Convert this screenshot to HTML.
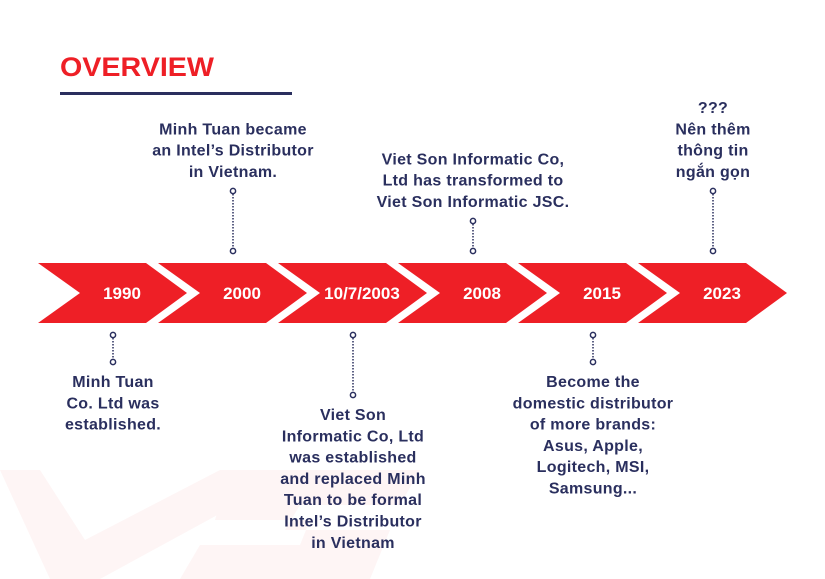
<!DOCTYPE html>
<html><head><meta charset="utf-8">
<style>
html,body{margin:0;padding:0;background:#fff;}
body{width:825px;height:579px;overflow:hidden;position:relative;font-family:"Liberation Sans","Noto Sans CJK SC",sans-serif;}
svg{position:absolute;left:0;top:0;}
</style></head>
<body>
<svg id="tl" width="825" height="579" viewBox="0 0 825 579" xmlns="http://www.w3.org/2000/svg">
  <g fill="#fef5f5">
    <polygon points="0,470 40,470 85,540 220,470 300,470 100,579 50,579"/>
    <polygon points="230,470 420,470 400,505 300,505 285,530 390,530 370,579 180,579 200,545 300,545 310,520 215,520"/>
  </g>
  <text x="60" y="76" font-size="27" font-weight="bold" fill="#ee1f26" textLength="154" lengthAdjust="spacingAndGlyphs" font-family="Liberation Sans, sans-serif">OVERVIEW</text>
  <rect x="60" y="92" width="232" height="3" fill="#2a2f5e"/>
</svg>
<script>
const years = ["1990","2000","10/7/2003","2008","2015","2023"];
const sides = ["bottom","top","bottom","top","bottom","top"];
const notes = [
  ["Minh Tuan","Co. Ltd was","established."],
  ["Minh Tuan became","an Intel’s Distributor","in Vietnam."],
  ["Viet Son","Informatic Co, Ltd","was established","and replaced Minh","Tuan to be formal","Intel’s Distributor","in Vietnam"],
  ["Viet Son Informatic Co,","Ltd has transformed to","Viet Son Informatic JSC."],
  ["Become the","domestic distributor","of more brands:","Asus, Apple,","Logitech, MSI,","Samsung..."],
  ["???","Nên thêm","thông tin","ngắn gọn"]
];
const connLen = [27, 60, 60, 30, 27, 60];

(function(){
const svg = document.getElementById('tl');
const NS = "http://www.w3.org/2000/svg";
const x0 = 38, step = 120, topY = 263, h = 60, mid = topY + h/2;
const navy = "#2a2f5e";
function mk(tag, attrs){ const e=document.createElementNS(NS,tag); for(const k in attrs) e.setAttribute(k,attrs[k]); svg.appendChild(e); return e; }

years.forEach((y,i)=>{
  const x = x0 + i*step;
  const p = mk('polygon',{points:`${x},${topY} ${x+108},${topY} ${x+149},${mid} ${x+108},${topY+h} ${x},${topY+h} ${x+42},${mid}`, fill:"#ee1f26"});
  
  
  const t = mk('text',{x:x+84, y:mid+6, 'text-anchor':'middle', 'font-size':17, 'font-weight':'bold', fill:'#fff'});
  t.textContent = y;
  
  

  const cx = x + 75;
  const lh = 21.3;
  const L = connLen[i];
  let c1, c2;
  if (sides[i] === 'top') { c2 = 251; c1 = c2 - L; } else { c1 = 335; c2 = c1 + L; }
  const ln = mk('line',{x1:cx,y1:c1,x2:cx,y2:c2,stroke:navy,'stroke-width':1.5,'stroke-dasharray':'1.5 1.5'});
  
  
  [c1,c2].forEach(cy=>{
    const c = mk('circle',{cx:cx,cy:cy,r:2.6,fill:'#fff',stroke:navy,'stroke-width':1.5});
    
    
  });

  const lines = notes[i];
  const g = document.createElementNS(NS,'text');
  
  
  g.setAttribute('text-anchor','middle');
  g.setAttribute('font-size','16');
  g.setAttribute('letter-spacing','0.3');
  g.setAttribute('font-weight','bold');
  g.setAttribute('fill',navy);
  let startY;
  if (sides[i] === 'top') startY = c1 - 14 - (lines.length-1)*lh;
  else startY = c2 + 25;
  lines.forEach((s,k)=>{
    const ts = document.createElementNS(NS,'tspan');
    ts.setAttribute('x', cx);
    ts.setAttribute('y', startY + k*lh);
    ts.textContent = s;
    g.appendChild(ts);
  });
  svg.appendChild(g);
});
})();
</script>
</body></html>
